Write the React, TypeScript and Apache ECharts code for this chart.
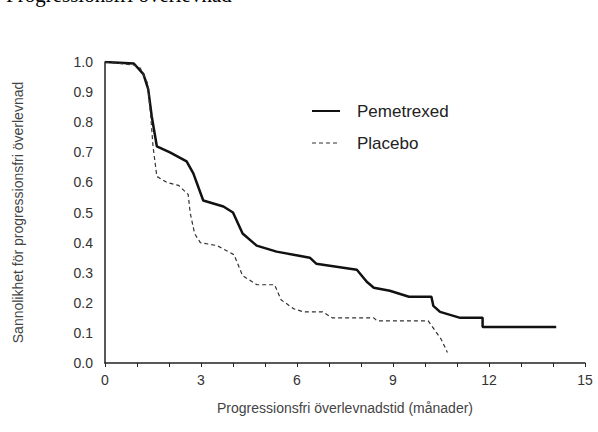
import * as echarts from "echarts";
import { useEffect, useRef } from "react";

const pemetrexed: [number, number][] = [
  [0, 1.0], [0.9, 0.995], [1.2, 0.96], [1.35, 0.91], [1.46, 0.82], [1.62, 0.72],
  [2.03, 0.7], [2.55, 0.67], [2.76, 0.63], [3.07, 0.54], [3.7, 0.52], [4.0, 0.5],
  [4.3, 0.43], [4.74, 0.39], [5.36, 0.37], [6.4, 0.35], [6.6, 0.33], [7.87, 0.31],
  [8.18, 0.27], [8.4, 0.25], [8.9, 0.24], [9.5, 0.22], [10.2, 0.22], [10.26, 0.19],
  [10.47, 0.17], [11.1, 0.15], [11.8, 0.15], [11.8, 0.12], [14.1, 0.12],
];

const placebo: [number, number][] = [
  [0, 1.0], [0.89, 0.99], [1.1, 0.98], [1.33, 0.93], [1.43, 0.82], [1.5, 0.72],
  [1.62, 0.62], [1.93, 0.6], [2.3, 0.59], [2.6, 0.56], [2.66, 0.5], [2.8, 0.43],
  [2.98, 0.4], [3.5, 0.39], [4.03, 0.36], [4.3, 0.29], [4.75, 0.26], [5.3, 0.26],
  [5.5, 0.21], [5.9, 0.18], [6.2, 0.17], [6.8, 0.17], [7.1, 0.15], [8.4, 0.15],
  [8.5, 0.14], [10.1, 0.14], [10.3, 0.11], [10.5, 0.08], [10.7, 0.035],
];

const seriesNames = ["Pemetrexed", "Placebo"];

export default function App() {
  const ref = useRef<HTMLDivElement | null>(null);

  useEffect(() => {
    if (!ref.current) return;
    const chart = echarts.init(ref.current, undefined, { renderer: "svg" });
    const font = "Liberation Sans, Arial, sans-serif";
    chart.setOption({
      animation: false,
      grid: { left: 105, right: 13, top: 62, bottom: 69 },
      xAxis: {
        type: "value",
        min: 0,
        max: 15,
        interval: 1,
        name: "Progressionsfri överlevnadstid (månader)",
        nameLocation: "middle",
        nameGap: 38,
        nameTextStyle: { color: "#444", fontSize: 14, fontFamily: font },
        axisLine: { lineStyle: { color: "#222", width: 1.5 } },
        axisTick: { lineStyle: { color: "#222" }, length: 4 },
        axisLabel: {
          color: "#333", fontSize: 14, fontFamily: font, margin: 10,
          formatter: (v: number) => (v % 3 === 0 ? String(v) : ""),
        },
        splitLine: { show: false },
      },
      yAxis: {
        type: "value",
        min: 0,
        max: 1,
        interval: 0.1,
        name: "Sannolikhet för progressionsfri överlevnad",
        nameLocation: "middle",
        nameGap: 80,
        nameTextStyle: { color: "#444", fontSize: 14, fontFamily: font },
        axisLine: { show: true, lineStyle: { color: "#222", width: 1.5 } },
        axisTick: { show: false },
        axisLabel: {
          color: "#333", fontSize: 14, fontFamily: font, margin: 12,
          formatter: (v: number) => v.toFixed(1),
        },
        splitLine: { show: false },
      },
      series: [
        {
          name: seriesNames[0], type: "line", data: pemetrexed, showSymbol: false,
          lineStyle: { color: "#111", width: 2.5 },
        },
        {
          name: seriesNames[1], type: "line", data: placebo, showSymbol: false,
          lineStyle: { color: "#333", width: 1.2, type: [4, 3] },
        },
      ],
      graphic: [
        {
          type: "text", left: 6, top: -16,
          style: { text: "Progressionsfri överlevnad", font: "21px 'Liberation Serif', serif", fill: "#000" },
        },
        { type: "line", shape: { x1: 312, y1: 111, x2: 340, y2: 111 }, style: { stroke: "#111", lineWidth: 2 } },
        {
          type: "text", x: 357, y: 111,
          style: { text: seriesNames[0], font: `17px ${font}`, fill: "#222", verticalAlign: "middle" },
        },
        { type: "line", shape: { x1: 312, y1: 143, x2: 340, y2: 143 }, style: { stroke: "#333", lineWidth: 1.2, lineDash: [4, 3] } },
        {
          type: "text", x: 357, y: 143,
          style: { text: seriesNames[1], font: `17px ${font}`, fill: "#222", verticalAlign: "middle" },
        },
      ],
    });
    return () => chart.dispose();
  }, []);

  return <div ref={ref} style={{ position: "fixed", left: 0, top: 0, width: 598, height: 432, background: "#fff" }} />;
}
